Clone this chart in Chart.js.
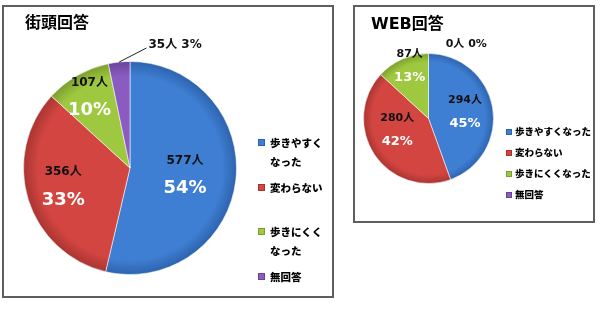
<!DOCTYPE html>
<html lang="ja">
<head>
<meta charset="UTF-8">
<title>街頭回答 / WEB回答</title>
<script src="https://cdn.jsdelivr.net/npm/chart.js"></script>
<style>
  body { margin: 0; background: #fff; width: 600px; height: 309px; position: relative; overflow: hidden;
         font-family: "DejaVu Sans", "Noto Sans CJK JP", sans-serif; }
  .box { position: absolute; border: 2px solid #5e5e5e; }
  #boxA { left: 2px; top: 5px; width: 328px; height: 289px; }
  #boxB { left: 353px; top: 5px; width: 238px; height: 214px; }
  .box canvas { position: absolute; left: 0; top: 0; }
  .title { position: absolute; font-weight: bold; font-size: 16px; line-height: 16px; color: #000; }
  #boxA .title { left: 21px; top: 8px; }
  #boxB .title { left: 16px; top: 9px; }
  .legend { position: absolute; font-weight: 900; color: #000; font-family: "Noto Sans CJK JP", sans-serif; }
  .legend .item { position: relative; }
  .legend .sw { position: absolute; left: 0; box-sizing: border-box; }
  #legA { left: 254px; top: 126px; font-size: 10.5px; line-height: 19px; }
  #legA .item { height: 44.7px; }
  #legA .sw { width: 7px; height: 7px; top: 6px; }
  #legA .txt { margin-left: 12px; width: 56px; }
  #legB { left: 151px; top: 114px; font-size: 9.5px; line-height: 21px; }
  #legB .item { height: 21px; }
  #legB .sw { width: 6px; height: 6px; top: 8px; }
  #legB .txt { margin-left: 9px; white-space: nowrap; }
</style>
</head>
<body>
  <div class="box" id="boxA">
    <canvas id="chartA" width="328" height="289"></canvas>
    <div class="title">街頭回答</div>
    <div class="legend" id="legA"></div>
  </div>
  <div class="box" id="boxB">
    <canvas id="chartB" width="238" height="214"></canvas>
    <div class="title">WEB回答</div>
    <div class="legend" id="legB"></div>
  </div>

<script>
  // 回答区分
  const categories = ['歩きやすくなった', '変わらない', '歩きにくくなった', '無回答'];
  // 街頭回答（人数・割合）
  const streetCounts = [577, 356, 107, 35];
  const streetPct = [54, 33, 10, 3];
  // WEB回答（人数・割合）
  const webCounts = [294, 280, 87, 0];
  const webPct = [45, 42, 13, 0];

  const fills = ['#3f7fd3', '#d24541', '#9ec83f', '#8a5cc2'];
  const edges = ['#2d62ad', '#a83431', '#7c9e2e', '#68439a'];

  // 縁を少し暗くする放射グラデーション
  function shaded(c) {
    const i = c.dataIndex;
    const area = c.chart.chartArea;
    if (i === undefined) return fills[0];
    if (!area) return fills[i];
    const cx = (area.left + area.right) / 2, cy = (area.top + area.bottom) / 2;
    const r = Math.min(area.right - area.left, area.bottom - area.top) / 2;
    const g = c.chart.ctx.createRadialGradient(cx, cy, 0, cx, cy, r);
    g.addColorStop(0, fills[i]);
    g.addColorStop(0.86, fills[i]);
    g.addColorStop(1, edges[i]);
    return g;
  }

  // 人数と割合のラベル
  const sliceLabels = {
    id: 'sliceLabels',
    afterDatasetsDraw(chart, args, opts) {
      const ctx = chart.ctx;
      const arcs = chart.getDatasetMeta(0).data;
      const vals = chart.data.datasets[0].data;
      arcs.forEach((arc, i) => {
        const p = arc.getProps(['x', 'y', 'startAngle', 'endAngle', 'outerRadius'], true);
        const mid = (p.startAngle + p.endAngle) / 2;
        const a = mid + opts.shift[i] * Math.PI / 180;
        const r = p.outerRadius * opts.ratio[i];
        const x = p.x + Math.cos(a) * r, y = p.y + Math.sin(a) * r;
        const count = vals[i] + '人', pct = opts.pct[i] + '%';
        ctx.save();
        ctx.textAlign = 'center';
        ctx.textBaseline = 'middle';
        if (opts.ratio[i] > 1) {
          ctx.font = opts.countFont;
          ctx.fillStyle = '#111';
          const txt = count + ' ' + pct;
          ctx.fillText(txt, x, y);
          if (vals[i] > 0) {
            const w = ctx.measureText(txt).width;
            ctx.strokeStyle = '#222';
            ctx.lineWidth = 1;
            ctx.beginPath();
            ctx.moveTo(p.x + Math.cos(mid) * p.outerRadius, p.y + Math.sin(mid) * p.outerRadius);
            ctx.lineTo(x - w / 2 - 2, y + 3);
            ctx.stroke();
          }
        } else {
          ctx.font = opts.countFont;
          ctx.fillStyle = '#111';
          ctx.fillText(count, x, y - opts.gap);
          ctx.font = opts.pctFont;
          ctx.fillStyle = '#fff';
          ctx.fillText(pct, x, y + opts.gap);
        }
        ctx.restore();
      });
    }
  };

  function makePie(id, counts, labelOpts, padding) {
    return new Chart(document.getElementById(id), {
      type: 'pie',
      data: {
        labels: categories,
        datasets: [{
          data: counts,
          backgroundColor: shaded,
          borderColor: 'rgba(255,255,255,0.55)',
          borderWidth: 1
        }]
      },
      options: {
        responsive: false,
        animation: false,
        devicePixelRatio: 1,
        events: [],
        layout: { padding: padding },
        plugins: {
          legend: { display: false },
          tooltip: { enabled: false },
          sliceLabels: labelOpts
        }
      },
      plugins: [sliceLabels]
    });
  }

  makePie('chartA', streetCounts, {
    pct: streetPct,
    ratio: [0.52, 0.65, 0.77, 1.23],
    shift: [0, 2, 0, 26],
    gap: 14,
    countFont: 'bold 12px "DejaVu Sans", "Noto Sans CJK JP"',
    pctFont: 'bold 18px "DejaVu Sans", "Noto Sans CJK JP"'
  }, { left: 19, top: 54, right: 95, bottom: 21 });

  makePie('chartB', webCounts, {
    pct: webPct,
    ratio: [0.57, 0.51, 0.86, 1.28],
    shift: [0, 14, 4, 27],
    gap: 11.5,
    countFont: 'bold 11px "DejaVu Sans", "Noto Sans CJK JP"',
    pctFont: 'bold 13px "DejaVu Sans", "Noto Sans CJK JP"'
  }, { left: 8, top: 46, right: 99, bottom: 37 });

  function buildLegend(id) {
    const el = document.getElementById(id);
    categories.forEach((name, i) => {
      const item = document.createElement('div');
      item.className = 'item';
      const sw = document.createElement('div');
      sw.className = 'sw';
      sw.style.background = fills[i];
      sw.style.border = '1px solid ' + edges[i];
      const txt = document.createElement('div');
      txt.className = 'txt';
      txt.textContent = name;
      item.appendChild(sw);
      item.appendChild(txt);
      el.appendChild(item);
    });
  }
  buildLegend('legA');
  buildLegend('legB');
</script>
</body>
</html>
